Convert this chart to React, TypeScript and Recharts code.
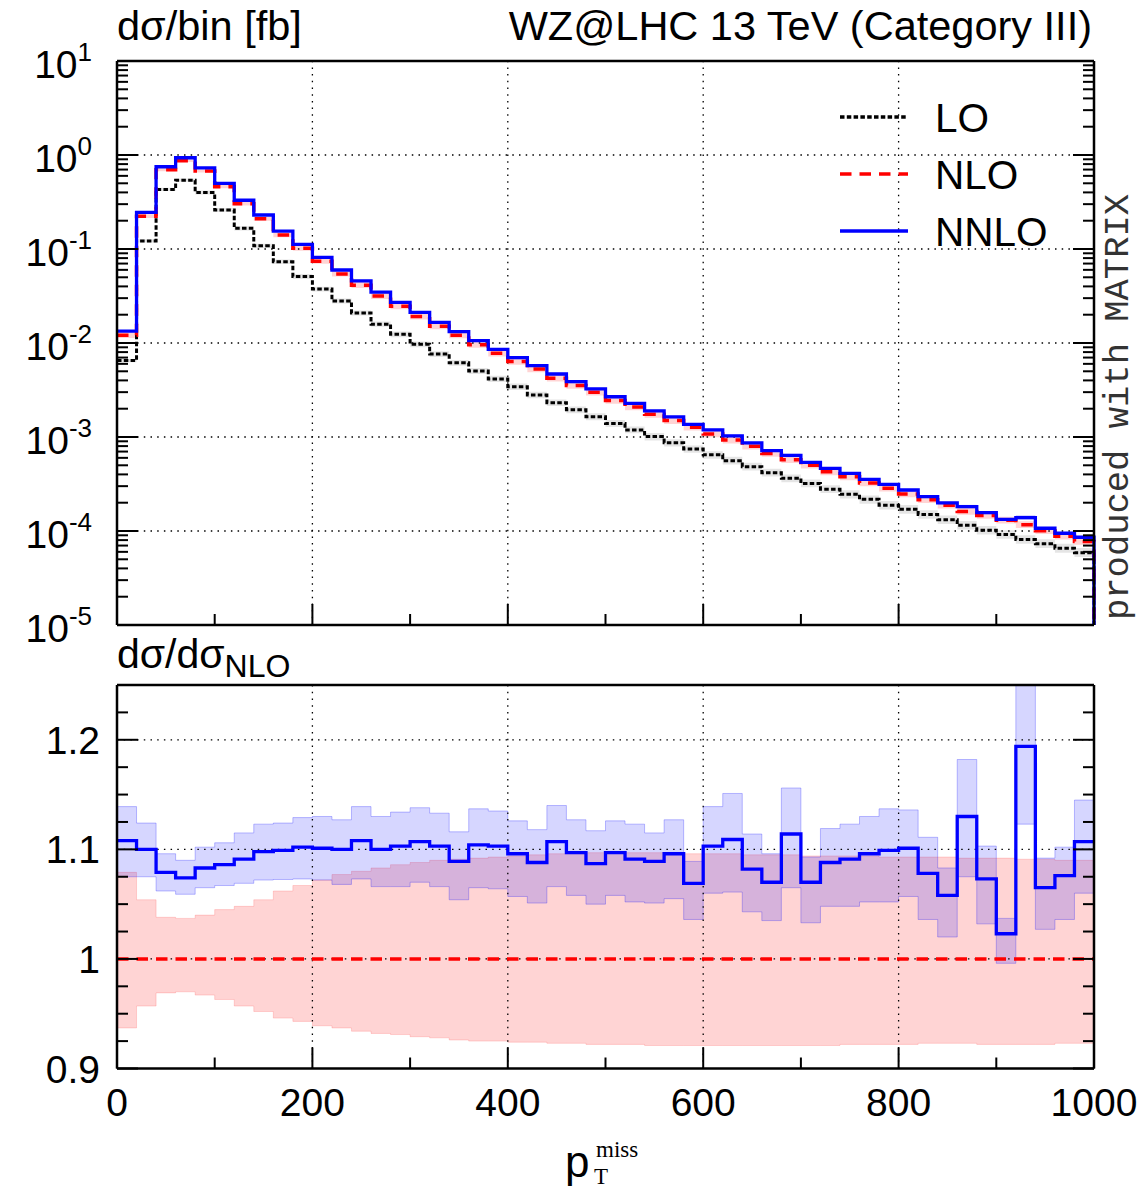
import { ComposedChart, Line, Area, XAxis, YAxis, ReferenceLine } from "recharts";

// lower bin edges in GeV, last entry closes the final bin
const EDGES = [
  0, 20, 40, 60, 80, 100, 120, 140, 160, 180, 200, 220, 240, 260, 280, 300, 320, 340, 360, 380,
  400, 420, 440, 460, 480, 500, 520, 540, 560, 580, 600, 620, 640, 660, 680, 700, 720, 740, 760, 780,
  800, 820, 840, 860, 880, 900, 920, 940, 960, 980, 1000,
];

// dσ/bin [fb]
const LO = [
  0.0065, 0.122, 0.43, 0.54, 0.4, 0.26, 0.166, 0.108, 0.073, 0.051,
  0.0375, 0.028, 0.0209, 0.0158, 0.0124, 0.00969, 0.00764, 0.00617, 0.00503, 0.00414,
  0.00343, 0.0028, 0.00232, 0.00195, 0.00164, 0.00139, 0.00119, 0.00101, 0.00087, 0.000745,
  0.000646, 0.00056, 0.000483, 0.000417, 0.000363, 0.000321, 0.000278, 0.000246, 0.000217, 0.000188,
  0.00017, 0.00015, 0.000132, 0.000115, 0.000102, 0.000092, 0.0000814, 0.0000731, 0.0000654, 0.0000588,
];
const NNLO = [
  0.0134, 0.245, 0.75, 0.935, 0.73, 0.5, 0.33, 0.23, 0.155, 0.112,
  0.0816, 0.0598, 0.0457, 0.0347, 0.0271, 0.0212, 0.0166, 0.0132, 0.0106, 0.00857,
  0.00698, 0.00574, 0.00468, 0.00388, 0.00325, 0.00268, 0.00228, 0.0019, 0.00164, 0.00136,
  0.00119, 0.00103, 0.000865, 0.000715, 0.000638, 0.000537, 0.000464, 0.000411, 0.000355, 0.000314,
  0.000273, 0.000232, 0.000199, 0.000182, 0.000157, 0.000133, 0.000139, 0.000107, 0.0000946, 0.0000858,
];
// NNLO / NLO per bin
const K_NNLO = [
  1.108, 1.1, 1.079, 1.074, 1.083, 1.086, 1.091, 1.098, 1.099, 1.102,
  1.101, 1.1, 1.108, 1.1, 1.103, 1.107, 1.103, 1.089, 1.104, 1.103,
  1.096, 1.088, 1.107, 1.097, 1.087, 1.097, 1.091, 1.089, 1.096, 1.069,
  1.103, 1.109, 1.082, 1.07, 1.114, 1.07, 1.088, 1.091, 1.096, 1.099,
  1.101, 1.078, 1.058, 1.13, 1.073, 1.023, 1.194, 1.065, 1.076, 1.107,
];
// scale-variation envelopes, normalised to the NLO central value
const NNLO_UP = [
  1.139, 1.124, 1.096, 1.09, 1.102, 1.106, 1.115, 1.123, 1.124, 1.129,
  1.13, 1.127, 1.139, 1.13, 1.134, 1.138, 1.133, 1.116, 1.137, 1.135,
  1.126, 1.118, 1.14, 1.127, 1.117, 1.126, 1.123, 1.115, 1.127, 1.089,
  1.139, 1.151, 1.114, 1.096, 1.156, 1.093, 1.119, 1.123, 1.13, 1.137,
  1.136, 1.111, 1.083, 1.182, 1.103, 1.037, 1.275, 1.092, 1.102, 1.145,
];
const NNLO_DN = [
  1.075, 1.075, 1.062, 1.059, 1.065, 1.067, 1.069, 1.072, 1.0725, 1.073,
  1.072, 1.068, 1.073, 1.066, 1.066, 1.07, 1.066, 1.054, 1.065, 1.064,
  1.057, 1.051, 1.066, 1.058, 1.05, 1.058, 1.052, 1.051, 1.055, 1.036,
  1.06, 1.061, 1.043, 1.035, 1.065, 1.033, 1.048, 1.048, 1.052, 1.052,
  1.057, 1.036, 1.02, 1.075, 1.032, 0.996, 1.123, 1.027, 1.036, 1.06,
];
const NLO_UP = [
  1.079, 1.054, 1.038, 1.037, 1.04, 1.045, 1.048, 1.054, 1.062, 1.067,
  1.072, 1.077, 1.08, 1.083, 1.086, 1.088, 1.09, 1.091, 1.092, 1.093,
  1.094, 1.095, 1.096, 1.096, 1.097, 1.097, 1.097, 1.097, 1.097, 1.096,
  1.096, 1.096, 1.095, 1.095, 1.095, 1.094, 1.094, 1.094, 1.094, 1.093,
  1.093, 1.093, 1.093, 1.092, 1.092, 1.092, 1.091, 1.091, 1.09, 1.09,
];
const NLO_DN = [
  0.937, 0.957, 0.969, 0.97, 0.967, 0.963, 0.957, 0.952, 0.946, 0.943,
  0.939, 0.937, 0.934, 0.932, 0.931, 0.929, 0.928, 0.926, 0.925, 0.925,
  0.924, 0.924, 0.923, 0.923, 0.922, 0.922, 0.922, 0.921, 0.921, 0.921,
  0.921, 0.921, 0.921, 0.921, 0.921, 0.921, 0.921, 0.922, 0.922, 0.922,
  0.922, 0.923, 0.923, 0.923, 0.922, 0.922, 0.922, 0.922, 0.923, 0.923,
];
// LO envelope, normalised to the LO central value
const LO_UP = [
  1.04, 1.04, 1.04, 1.04, 1.05, 1.05, 1.05, 1.05, 1.06, 1.06,
  1.06, 1.06, 1.06, 1.07, 1.07, 1.07, 1.07, 1.07, 1.08, 1.08,
  1.08, 1.08, 1.08, 1.08, 1.09, 1.09, 1.09, 1.09, 1.09, 1.09,
  1.09, 1.1, 1.1, 1.1, 1.1, 1.1, 1.1, 1.1, 1.1, 1.11,
  1.11, 1.11, 1.11, 1.11, 1.11, 1.11, 1.11, 1.12, 1.12, 1.12,
];
const LO_DN = [
  0.96, 0.96, 0.96, 0.96, 0.95, 0.95, 0.95, 0.95, 0.95, 0.94,
  0.94, 0.94, 0.94, 0.94, 0.93, 0.93, 0.93, 0.93, 0.93, 0.93,
  0.92, 0.92, 0.92, 0.92, 0.92, 0.92, 0.92, 0.91, 0.91, 0.91,
  0.91, 0.91, 0.91, 0.91, 0.91, 0.91, 0.91, 0.9, 0.9, 0.9,
  0.9, 0.9, 0.9, 0.9, 0.9, 0.9, 0.9, 0.9, 0.9, 0.9,
];

const X_TICKS = [0, 100, 200, 300, 400, 500, 600, 700, 800, 900, 1000];
const X_LABELS = [0, 200, 400, 600, 800, 1000];
const X_GRID = [200, 400, 600, 800];
const DECADES = [-5, -4, -3, -2, -1, 0, 1];
const LOG_GRID = [1e-4, 1e-3, 1e-2, 1e-1, 1];
const RATIO_TICKS = [0.9, 0.925, 0.95, 0.975, 1, 1.025, 1.05, 1.075, 1.1, 1.125, 1.15, 1.175, 1.2, 1.225, 1.25];
const RATIO_LABELS = [0.9, 1, 1.1, 1.2];
const RATIO_GRID = [1, 1.1, 1.2];

const SERIES = [
  { name: "LO", color: "#000000", dash: "4.5 2.3" },
  { name: "NLO", color: "#ff0000", dash: "11.5 8" },
  { name: "NNLO", color: "#0000ff", dash: undefined },
];

const FONT = "'Liberation Sans', Arial, Helvetica, sans-serif";
const SERIF = "'Liberation Serif', 'Times New Roman', serif";
const FLOOR = 1e-5;
const LOG_TICKS = DECADES.flatMap((d) =>
  d === 1 ? [10] : [1, 2, 3, 4, 5, 6, 7, 8, 9].map((m) => m * Math.pow(10, d))
);

const NBINS = K_NNLO.length;
const topRows = EDGES.map((x, i) => {
  const j = Math.min(i, NBINS - 1);
  const end = i === NBINS;
  const nlo = NNLO[j] / K_NNLO[j];
  return {
    x,
    lo: end ? FLOOR : LO[j],
    nlo: end ? FLOOR : nlo,
    nnlo: end ? FLOOR : NNLO[j],
    loBand: [LO[j] * LO_DN[j], LO[j] * LO_UP[j]],
    nloBand: [nlo * NLO_DN[j], nlo * NLO_UP[j]],
    nnloBand: [nlo * NNLO_DN[j], nlo * NNLO_UP[j]],
  };
});

const ratioRows = EDGES.map((x, i) => {
  const j = Math.min(i, NBINS - 1);
  const nlo = NNLO[j] / K_NNLO[j];
  return {
    x,
    nlo: nlo / nlo,
    nnlo: NNLO[j] / nlo,
    nloBand: [NLO_DN[j], NLO_UP[j]],
    nnloBand: [NNLO_DN[j], NNLO_UP[j]],
  };
});

const near = (a: number, list: number[]) => list.some((b) => Math.abs(a - b) < 1e-9);
const isDecade = (v: number) => Math.abs(Math.log10(v) - Math.round(Math.log10(v))) < 1e-6;

// inward gnuplot-style ticks drawn on every side of the frame
const edgeTick =
  (side: "top" | "bottom" | "left" | "right", isMajor: (v: number) => boolean, label?: (v: number, x: number, y: number) => any) =>
  (props: any) => {
    const { x, y, payload } = props;
    const v = payload.value;
    const len = isMajor(v) ? 21 : 11;
    const x2 = side === "left" ? x + len : side === "right" ? x - len : x;
    const y2 = side === "bottom" ? y - len : side === "top" ? y + len : y;
    return (
      <g>
        <line x1={x} y1={y} x2={x2} y2={y2} stroke="#000" strokeWidth={2} />
        {label ? label(v, x, y) : null}
      </g>
    );
  };

const logLabel = (v: number, x: number, y: number) =>
  isDecade(v) ? (
    <text x={x - 25} y={y + 16.5} textAnchor="end" fontSize={39} fontFamily={FONT} fill="#000">
      10
      <tspan dy={-17} fontSize={26}>
        {Math.round(Math.log10(v))}
      </tspan>
    </text>
  ) : null;

const ratioLabel = (v: number, x: number, y: number) =>
  near(v, RATIO_LABELS) ? (
    <text x={x - 17} y={y + 14} textAnchor="end" fontSize={39} fontFamily={FONT} fill="#000">
      {String(Math.round(v * 10) / 10)}
    </text>
  ) : null;

const xLabel = (v: number, x: number, y: number) =>
  near(v, X_LABELS) ? (
    <text x={x} y={y + 47} textAnchor="middle" fontSize={39} fontFamily={FONT} fill="#000">
      {v}
    </text>
  ) : null;

const xMajor = (v: number) => v % 200 === 0;
const ratioMajor = (v: number) => near(v, RATIO_LABELS);
const FRAME = { stroke: "#000", strokeWidth: 2.5 };
const GRID = { stroke: "#000", strokeWidth: 1.3, strokeDasharray: "1.5 5.2" };

const axisCommon = {
  tickSize: 0,
  tickMargin: 0,
  tickLine: false,
  interval: 0 as const,
  axisLine: FRAME,
};

const TopPanel = () => (
  <ComposedChart width={1140} height={660} data={topRows} margin={{ top: 41, right: 26, bottom: 15, left: 17 }}>
    <XAxis xAxisId="b" dataKey="x" type="number" domain={[0, 1000]} ticks={X_TICKS} height={20} {...axisCommon} tick={edgeTick("bottom", xMajor)} />
    <XAxis xAxisId="t" orientation="top" type="number" domain={[0, 1000]} ticks={X_TICKS} height={20} {...axisCommon} tick={edgeTick("top", xMajor)} />
    <YAxis yAxisId="l" scale="log" type="number" domain={[1e-5, 10]} allowDataOverflow ticks={LOG_TICKS} width={100} {...axisCommon} tick={edgeTick("left", isDecade, logLabel)} />
    <YAxis yAxisId="r" orientation="right" scale="log" type="number" domain={[1e-5, 10]} allowDataOverflow ticks={LOG_TICKS} width={20} {...axisCommon} tick={edgeTick("right", isDecade)} />
    {LOG_GRID.map((v) => (
      <ReferenceLine key={`h${v}`} xAxisId="b" yAxisId="l" y={v} {...GRID} />
    ))}
    {X_GRID.map((v) => (
      <ReferenceLine key={`v${v}`} xAxisId="b" yAxisId="l" x={v} {...GRID} />
    ))}
    <Area xAxisId="b" yAxisId="l" type="stepAfter" dataKey="loBand" fill="#000" fillOpacity={0.1} stroke="none" isAnimationActive={false} activeDot={false} />
    <Area xAxisId="b" yAxisId="l" type="stepAfter" dataKey="nloBand" fill="#ff0000" fillOpacity={0.17} stroke="none" isAnimationActive={false} activeDot={false} />
    <Area xAxisId="b" yAxisId="l" type="stepAfter" dataKey="nnloBand" fill="#0000ff" fillOpacity={0.16} stroke="none" isAnimationActive={false} activeDot={false} />
    <Line xAxisId="b" yAxisId="l" type="stepAfter" dataKey="lo" stroke="#000" strokeWidth={3} strokeDasharray={SERIES[0].dash} dot={false} activeDot={false} isAnimationActive={false} />
    <Line xAxisId="b" yAxisId="l" type="stepAfter" dataKey="nlo" stroke="#ff0000" strokeWidth={3.5} strokeDasharray={SERIES[1].dash} dot={false} activeDot={false} isAnimationActive={false} />
    <Line xAxisId="b" yAxisId="l" type="stepAfter" dataKey="nnlo" stroke="#0000ff" strokeWidth={3.3} dot={false} activeDot={false} isAnimationActive={false} />
  </ComposedChart>
);

const RatioPanel = () => (
  <ComposedChart width={1140} height={560} data={ratioRows} margin={{ top: 25, right: 26, bottom: 71.5, left: 17 }}>
    <XAxis xAxisId="b" dataKey="x" type="number" domain={[0, 1000]} ticks={X_TICKS} height={60} {...axisCommon} tick={edgeTick("bottom", xMajor, xLabel)} />
    <XAxis xAxisId="t" orientation="top" type="number" domain={[0, 1000]} ticks={X_TICKS} height={20} {...axisCommon} tick={edgeTick("top", xMajor)} />
    <YAxis yAxisId="l" type="number" domain={[0.9, 1.25]} allowDataOverflow ticks={RATIO_TICKS} width={100} {...axisCommon} tick={edgeTick("left", ratioMajor, ratioLabel)} />
    <YAxis yAxisId="r" orientation="right" type="number" domain={[0.9, 1.25]} allowDataOverflow ticks={RATIO_TICKS} width={20} {...axisCommon} tick={edgeTick("right", ratioMajor)} />
    {RATIO_GRID.map((v) => (
      <ReferenceLine key={`h${v}`} xAxisId="b" yAxisId="l" y={v} {...GRID} />
    ))}
    {X_GRID.map((v) => (
      <ReferenceLine key={`v${v}`} xAxisId="b" yAxisId="l" x={v} {...GRID} />
    ))}
    <Area xAxisId="b" yAxisId="l" type="stepAfter" dataKey="nloBand" fill="#ff0000" fillOpacity={0.17} stroke="#ff0000" strokeOpacity={0.15} strokeWidth={1} isAnimationActive={false} activeDot={false} />
    <Area xAxisId="b" yAxisId="l" type="stepAfter" dataKey="nnloBand" fill="#0000ff" fillOpacity={0.16} stroke="#0000ff" strokeOpacity={0.25} strokeWidth={1} isAnimationActive={false} activeDot={false} />
    <Line xAxisId="b" yAxisId="l" type="stepAfter" dataKey="nlo" stroke="#ff0000" strokeWidth={3.5} strokeDasharray={SERIES[1].dash} dot={false} activeDot={false} isAnimationActive={false} />
    <Line xAxisId="b" yAxisId="l" type="stepAfter" dataKey="nnlo" stroke="#0000ff" strokeWidth={3.3} dot={false} activeDot={false} isAnimationActive={false} />
  </ComposedChart>
);

const Labels = () => (
  <svg width={1140} height={1200} style={{ position: "absolute", left: 0, top: 0, pointerEvents: "none" }}>
    <g fontFamily={FONT} fill="#000">
      <text x={117} y={40} fontSize={41.5}>dσ/bin [fb]</text>
      <text x={1092} y={40} fontSize={41.5} textAnchor="end">WZ@LHC 13 TeV (Category III)</text>
      <text x={117} y={668} fontSize={41}>
        dσ/dσ<tspan dy={9} fontSize={32}>NLO</tspan>
      </text>
      {SERIES.map((s, i) => (
        <g key={s.name}>
          <line x1={840} x2={908} y1={117 + i * 57} y2={117 + i * 57} stroke={s.color} strokeWidth={3.3} strokeDasharray={s.dash} />
          <text x={935} y={132 + i * 57} fontSize={40.5}>{s.name}</text>
        </g>
      ))}
      <text x={565} y={1177} fontSize={44}>p</text>
      <text x={594} y={1184} fontSize={23} fontFamily={SERIF}>T</text>
      <text x={596} y={1157} fontSize={23} fontFamily={SERIF}>miss</text>
    </g>
    <text
      transform="translate(1128 620) rotate(-90)"
      fontFamily="'Liberation Mono', 'DejaVu Sans Mono', monospace"
      fontSize={35.5}
      fill="#333"
    >
      produced with MATRIX
    </text>
  </svg>
);

export default function App() {
  return (
    <div style={{ position: "absolute", left: 0, top: 0, width: 1140, height: 1200, background: "#fff" }}>
      <div style={{ position: "absolute", left: 0, top: 0 }}>
        <TopPanel />
      </div>
      <div style={{ position: "absolute", left: 0, top: 640 }}>
        <RatioPanel />
      </div>
      <Labels />
    </div>
  );
}
